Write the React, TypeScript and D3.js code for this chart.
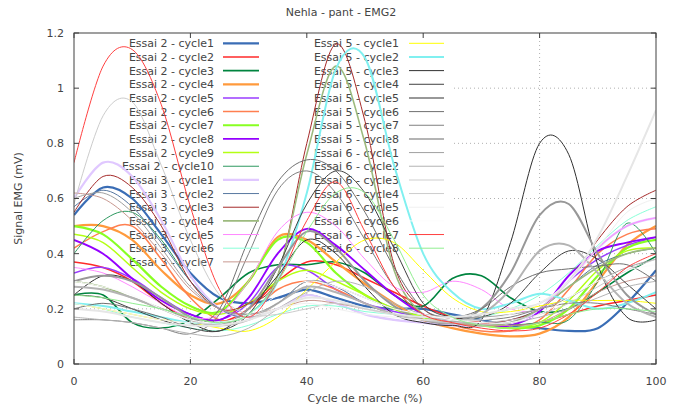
import React from 'react';
import * as d3 from 'd3';

const X = [0, 5, 10, 15, 20, 25, 30, 35, 40, 45, 50, 55, 60, 65, 70, 75, 80, 85, 90, 95, 100];

const e2c1 = [0.54, 0.64, 0.6, 0.47, 0.33, 0.24, 0.22, 0.24, 0.27, 0.24, 0.21, 0.2, 0.2, 0.18, 0.16, 0.14, 0.13, 0.12, 0.13, 0.22, 0.34];
const e2c2 = [0.37, 0.35, 0.3, 0.22, 0.16, 0.15, 0.2, 0.3, 0.37, 0.36, 0.31, 0.26, 0.21, 0.17, 0.15, 0.14, 0.15, 0.18, 0.21, 0.23, 0.25];
const e2c3 = [0.25, 0.25, 0.15, 0.13, 0.16, 0.24, 0.33, 0.36, 0.36, 0.37, 0.33, 0.25, 0.21, 0.31, 0.32, 0.24, 0.19, 0.2, 0.26, 0.33, 0.39];
const e2c4 = [0.5, 0.5, 0.45, 0.34, 0.25, 0.22, 0.3, 0.46, 0.45, 0.37, 0.29, 0.22, 0.16, 0.13, 0.11, 0.1, 0.11, 0.17, 0.3, 0.43, 0.5];
const e2c5 = [0.33, 0.35, 0.31, 0.24, 0.18, 0.16, 0.22, 0.35, 0.34, 0.27, 0.22, 0.19, 0.17, 0.15, 0.14, 0.15, 0.2, 0.3, 0.38, 0.43, 0.46];
const e2c6 = [0.42, 0.48, 0.5, 0.38, 0.24, 0.16, 0.18, 0.27, 0.3, 0.27, 0.22, 0.18, 0.16, 0.14, 0.12, 0.12, 0.16, 0.27, 0.4, 0.47, 0.49];
const e2c7 = [0.5, 0.47, 0.38, 0.28, 0.21, 0.19, 0.3, 0.45, 0.44, 0.33, 0.25, 0.2, 0.17, 0.15, 0.14, 0.13, 0.14, 0.2, 0.32, 0.42, 0.45];
const e2c8 = [0.45, 0.4, 0.31, 0.23, 0.18, 0.16, 0.24, 0.4, 0.49, 0.43, 0.34, 0.25, 0.18, 0.15, 0.14, 0.14, 0.19, 0.32, 0.41, 0.44, 0.46];
const e2c9 = [0.47, 0.44, 0.35, 0.26, 0.2, 0.18, 0.22, 0.3, 0.34, 0.3, 0.25, 0.2, 0.17, 0.15, 0.14, 0.13, 0.15, 0.23, 0.34, 0.41, 0.42];
const e2c10 = [0.4, 0.52, 0.55, 0.45, 0.3, 0.2, 0.17, 0.2, 0.25, 0.22, 0.18, 0.16, 0.15, 0.14, 0.14, 0.14, 0.15, 0.16, 0.3, 0.51, 0.4];
const e3c1 = [0.6, 0.73, 0.68, 0.52, 0.32, 0.2, 0.17, 0.2, 0.25, 0.22, 0.18, 0.16, 0.15, 0.14, 0.14, 0.15, 0.2, 0.3, 0.42, 0.5, 0.53];
const e3c2 = [0.57, 0.63, 0.57, 0.44, 0.3, 0.2, 0.17, 0.22, 0.3, 0.28, 0.22, 0.18, 0.16, 0.15, 0.15, 0.16, 0.2, 0.28, 0.36, 0.4, 0.42];
const e3c3 = [0.55, 0.68, 0.64, 0.5, 0.3, 0.2, 0.22, 0.32, 0.8, 1.16, 0.88, 0.36, 0.2, 0.16, 0.15, 0.16, 0.2, 0.3, 0.45, 0.57, 0.63];
const e3c4 = [0.3, 0.28, 0.24, 0.2, 0.17, 0.15, 0.18, 0.32, 0.76, 1.08, 0.8, 0.34, 0.18, 0.15, 0.14, 0.15, 0.2, 0.28, 0.35, 0.4, 0.42];
const e3c5 = [0.35, 0.33, 0.28, 0.22, 0.17, 0.18, 0.3, 0.48, 0.55, 0.5, 0.38, 0.28, 0.26, 0.3, 0.27, 0.2, 0.2, 0.3, 0.42, 0.5, 0.53];
const e3c6 = [0.22, 0.2, 0.17, 0.15, 0.13, 0.12, 0.14, 0.18, 0.21, 0.21, 0.19, 0.18, 0.17, 0.16, 0.17, 0.2, 0.25, 0.33, 0.43, 0.52, 0.57];
const e3c7 = [0.62, 0.6, 0.52, 0.4, 0.27, 0.2, 0.18, 0.2, 0.23, 0.22, 0.2, 0.18, 0.16, 0.15, 0.14, 0.14, 0.15, 0.2, 0.26, 0.3, 0.32];
const e5c1 = [0.22, 0.2, 0.18, 0.16, 0.15, 0.13, 0.12, 0.17, 0.27, 0.37, 0.45, 0.44, 0.34, 0.24, 0.19, 0.19, 0.21, 0.23, 0.23, 0.23, 0.22];
const e5c2 = [0.22, 0.21, 0.19, 0.17, 0.15, 0.15, 0.18, 0.3, 0.62, 1.07, 1.11, 0.72, 0.4, 0.26, 0.2, 0.22, 0.255, 0.23, 0.2, 0.22, 0.26];
const e5c3 = [0.25, 0.32, 0.3, 0.22, 0.15, 0.12, 0.2, 0.32, 0.45, 0.4, 0.28, 0.18, 0.15, 0.14, 0.16, 0.44, 0.8, 0.76, 0.36, 0.17, 0.16];
const e5c4 = [0.25, 0.24, 0.2, 0.16, 0.13, 0.12, 0.18, 0.35, 0.58, 0.7, 0.62, 0.42, 0.22, 0.17, 0.17, 0.22, 0.33, 0.41, 0.38, 0.29, 0.2];
const e5c5 = [0.3, 0.32, 0.3, 0.24, 0.17, 0.14, 0.2, 0.35, 0.48, 0.42, 0.3, 0.21, 0.16, 0.15, 0.2, 0.33, 0.54, 0.58, 0.4, 0.25, 0.18];
const e5c6 = [0.2, 0.22, 0.2, 0.17, 0.14, 0.2, 0.45, 0.66, 0.74, 0.7, 0.55, 0.35, 0.2, 0.17, 0.2, 0.28, 0.33, 0.345, 0.355, 0.36, 0.3];
const e5c7 = [0.16, 0.16, 0.15, 0.13, 0.11, 0.18, 0.4, 0.63, 0.7, 0.62, 0.45, 0.28, 0.18, 0.16, 0.16, 0.17, 0.2, 0.22, 0.22, 0.2, 0.18];
const e5c8 = [0.28, 0.27, 0.24, 0.2, 0.16, 0.14, 0.16, 0.22, 0.28, 0.26, 0.22, 0.18, 0.16, 0.15, 0.18, 0.27, 0.41, 0.43, 0.33, 0.22, 0.17];
const e6c1 = [0.6, 0.62, 0.55, 0.42, 0.28, 0.2, 0.18, 0.22, 0.3, 0.28, 0.24, 0.2, 0.18, 0.17, 0.17, 0.18, 0.2, 0.24, 0.3, 0.35, 0.38];
const e6c2 = [0.17, 0.16, 0.15, 0.13, 0.11, 0.1, 0.13, 0.2, 0.26, 0.3, 0.28, 0.22, 0.18, 0.16, 0.15, 0.15, 0.17, 0.2, 0.24, 0.28, 0.3];
const e6c3 = [0.2, 0.19, 0.17, 0.15, 0.14, 0.14, 0.16, 0.2, 0.24, 0.23, 0.2, 0.18, 0.17, 0.17, 0.18, 0.2, 0.22, 0.3, 0.46, 0.68, 0.92];
const e6c4 = [0.58, 0.9, 0.95, 0.72, 0.45, 0.25, 0.18, 0.18, 0.2, 0.22, 0.2, 0.18, 0.16, 0.15, 0.15, 0.16, 0.18, 0.22, 0.28, 0.34, 0.38];
const e6c5 = [0.22, 0.2, 0.18, 0.16, 0.15, 0.15, 0.17, 0.2, 0.22, 0.2, 0.18, 0.17, 0.16, 0.16, 0.16, 0.18, 0.22, 0.3, 0.42, 0.55, 0.6];
const e6c6 = [0.3, 0.28, 0.25, 0.2, 0.16, 0.15, 0.18, 0.25, 0.3, 0.28, 0.24, 0.2, 0.18, 0.16, 0.15, 0.15, 0.18, 0.24, 0.3, 0.34, 0.36];
const e6c7 = [0.73, 1.08, 1.14, 0.94, 0.57, 0.27, 0.17, 0.3, 0.52, 0.66, 0.48, 0.28, 0.18, 0.15, 0.13, 0.12, 0.13, 0.18, 0.26, 0.35, 0.4];
const e6c8 = [0.25, 0.24, 0.22, 0.2, 0.17, 0.15, 0.18, 0.3, 0.48, 0.62, 0.62, 0.45, 0.25, 0.17, 0.14, 0.13, 0.15, 0.18, 0.2, 0.2, 0.19];

const LABELS = [
  'Essai 2 - cycle1', 'Essai 2 - cycle2', 'Essai 2 - cycle3', 'Essai 2 - cycle4', 'Essai 2 - cycle5',
  'Essai 2 - cycle6', 'Essai 2 - cycle7', 'Essai 2 - cycle8', 'Essai 2 - cycle9', 'Essai 2 - cycle10',
  'Essai 3 - cycle1', 'Essai 3 - cycle2', 'Essai 3 - cycle3', 'Essai 3 - cycle4', 'Essai 3 - cycle5',
  'Essai 3 - cycle6', 'Essai 3 - cycle7',
  'Essai 5 - cycle1', 'Essai 5 - cycle2', 'Essai 5 - cycle3', 'Essai 5 - cycle4', 'Essai 5 - cycle5',
  'Essai 5 - cycle6', 'Essai 5 - cycle7', 'Essai 5 - cycle8',
  'Essai 6 - cycle1', 'Essai 6 - cycle2', 'Essai 6 - cycle3', 'Essai 6 - cycle4', 'Essai 6 - cycle5',
  'Essai 6 - cycle6', 'Essai 6 - cycle7', 'Essai 6 - cycle8',
];
const VALUES = [
  e2c1, e2c2, e2c3, e2c4, e2c5, e2c6, e2c7, e2c8, e2c9, e2c10,
  e3c1, e3c2, e3c3, e3c4, e3c5, e3c6, e3c7,
  e5c1, e5c2, e5c3, e5c4, e5c5, e5c6, e5c7, e5c8,
  e6c1, e6c2, e6c3, e6c4, e6c5, e6c6, e6c7, e6c8,
];
const COLORS = [
  '#3a6db5', '#ff2a2a', '#00843f', '#ff9a3c', '#9a3cff', '#ff7f50', '#88ff22', '#9400ff', '#b4ff14', '#2e9960',
  '#e0c8ff', '#5878a0', '#a52a2a', '#9cba7e', '#ff88ff', '#88ffd8', '#c89890',
  '#ffff00', '#80f0f0', '#303030', '#404040', '#989898', '#707070', '#808080', '#b4b4b4',
  '#a0a0a0', '#b4b4b4', '#e6e6e6', '#cccccc', '#f0f0f0', '#fcfcfc', '#ff4040', '#90ee90',
];
const WIDTHS = [
  2.2, 1.5, 1.6, 2.2, 1.5, 1.5, 2.2, 1.9, 1.5, 1,
  2.2, 1, 1, 1.6, 1, 1, 1,
  1, 2, 1, 1, 2, 1, 1, 2,
  1, 1, 2, 1, 1, 1, 1, 1,
];

const XTICKS = [0, 20, 40, 60, 80, 100];
const YTICKS = [0, 0.2, 0.4, 0.6, 0.8, 1, 1.2];

export default function App() {
  const W = 683, H = 412;
  const L = 74, R = 656, T = 33, B = 364;
  const x = d3.scaleLinear().domain([0, 100]).range([L, R]);
  const y = d3.scaleLinear().domain([0, 1.2]).range([B, T]);
  const line = d3.line<number>()
    .x((_, i) => x(X[i]))
    .y((d) => y(d))
    .curve(d3.curveCatmullRom.alpha(0));
  const font = 'DejaVu Sans, sans-serif';
  const txt = '#454545';
  const rowH = 13.66;
  const row0 = 43.3;
  const keyRight = 452, keyBottom = 268;

  const legend = LABELS.map((lab, i) => {
    const col = i < 17 ? 0 : 1;
    const r = col === 0 ? i : i - 17;
    const yy = row0 + r * rowH;
    const tx = col === 0 ? 214 : 399;
    const s0 = col === 0 ? 223 : 409;
    const s1 = col === 0 ? 259 : 444;
    return { lab, yy, tx, s0, s1, i };
  });

  return (
    <svg width={W} height={H} style={{ position: 'absolute', left: 0, top: 0, background: '#fff' }}
      fontFamily={font}>
      <rect x={0} y={0} width={W} height={H} fill="#fff" />
      <g stroke="#b0b0b0" strokeWidth={1} strokeDasharray="1,3">
        {XTICKS.filter((t) => t > 0 && t < 100).map((t) => (
          <line key={'gx' + t} x1={x(t)} x2={x(t)} y1={T} y2={B} />
        ))}
        {YTICKS.filter((t) => t > 0 && t < 1.2).map((t) => (
          <line key={'gy' + t} x1={L} x2={R} y1={y(t)} y2={y(t)} />
        ))}
      </g>
      <rect x={L + 0.5} y={T + 0.5} width={keyRight - L} height={keyBottom - T} fill="#fff" />
      <g fontSize={11} fill={txt}>
        {legend.map((l) => (
          <text key={'lt' + l.i} x={l.tx} y={l.yy} dy="0.36em" textAnchor="end">{l.lab}</text>
        ))}
      </g>
      <defs>
        <clipPath id="plotclip">
          <rect x={L} y={T} width={R - L} height={B - T} />
        </clipPath>
      </defs>
      <g clipPath="url(#plotclip)" fill="none">
        {VALUES.map((v, i) => (
          <path key={'c' + i} d={line(v) || ''} stroke={COLORS[i]} strokeWidth={WIDTHS[i]} />
        ))}
      </g>
      <g>
        {legend.map((l) => (
          <line key={'ls' + l.i} x1={l.s0} x2={l.s1} y1={l.yy} y2={l.yy}
            stroke={COLORS[l.i]} strokeWidth={WIDTHS[l.i]} />
        ))}
      </g>
      <rect x={L} y={T} width={R - L} height={B - T} fill="none" stroke="#404040" strokeWidth={1} />
      <g stroke="#404040" strokeWidth={1}>
        {XTICKS.map((t) => (
          <g key={'tx' + t}>
            <line x1={x(t)} x2={x(t)} y1={B} y2={B - 5} />
            <line x1={x(t)} x2={x(t)} y1={T} y2={T + 5} />
          </g>
        ))}
        {YTICKS.map((t) => (
          <g key={'ty' + t}>
            <line x1={L} x2={L + 5} y1={y(t)} y2={y(t)} />
            <line x1={R} x2={R - 5} y1={y(t)} y2={y(t)} />
          </g>
        ))}
      </g>
      <g fontSize={11} fill={txt}>
        {XTICKS.map((t) => (
          <text key={'xl' + t} x={x(t)} y={B + 17} dy="0.36em" textAnchor="middle">{t}</text>
        ))}
        {YTICKS.map((t) => (
          <text key={'yl' + t} x={64} y={y(t)} dy="0.36em" textAnchor="end">{String(t)}</text>
        ))}
      </g>
      <text x={(L + R) / 2} y={398} dy="0.36em" textAnchor="middle" fontSize={11} fill={txt}>Cycle de marche (%)</text>
      <text transform={`translate(18,${(T + B) / 2}) rotate(-90)`} dy="0.36em" textAnchor="middle" fontSize={11} fill={txt}>Signal EMG (mV)</text>
      <text x={341} y={12} dy="0.36em" textAnchor="middle" fontSize={11} fill={txt}>Nehla - pant - EMG2</text>
    </svg>
  );
}
